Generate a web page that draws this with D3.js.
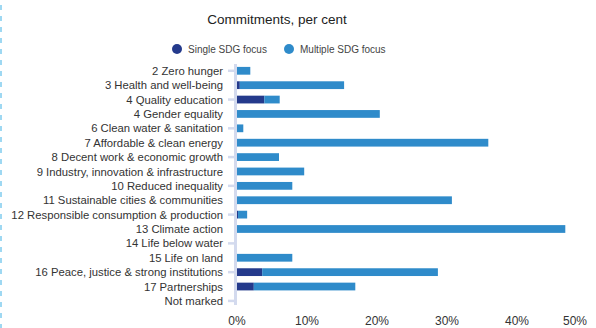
<!DOCTYPE html>
<html>
<head>
<meta charset="utf-8">
<script src="https://cdn.jsdelivr.net/npm/d3@7"></script>
<style>
  html, body { margin: 0; padding: 0; background: #ffffff; }
  svg { display: block; font-family: "Liberation Sans", Arial, sans-serif; }
</style>
</head>
<body>
<svg id="chart" width="596" height="328"></svg>
<script>
// SDG categories, top to bottom
const categories = [
  "2 Zero hunger",
  "3 Health and well-being",
  "4 Quality education",
  "4 Gender equality",
  "6 Clean water & sanitation",
  "7 Affordable & clean energy",
  "8 Decent work & economic growth",
  "9 Industry, innovation & infrastructure",
  "10 Reduced inequality",
  "11 Sustainable cities & communities",
  "12 Responsible consumption & production",
  "13 Climate action",
  "14 Life below water",
  "15 Life on land",
  "16 Peace, justice & strong institutions",
  "17 Partnerships",
  "Not marked"
];

// Share of commitments (per cent)
const singleFocus   = [0, 0.4, 3.9, 0, 0, 0, 0, 0, 0, 0, 0.15, 0, 0, 0, 3.6, 2.4, 0];
const multipleFocus = [1.9, 14.9, 2.2, 20.4, 0.9, 35.9, 6.0, 9.6, 7.9, 30.7, 1.3, 46.9, 0, 7.9, 25.1, 14.5, 0];

const xTicks = [0, 10, 20, 30, 40, 50];
const seriesNames = ["Single SDG focus", "Multiple SDG focus"];
const colors = ["#243a8c", "#2f8bca"];

const svg = d3.select("#chart");

// left dashed border
svg.append("line")
  .attr("x1", 1).attr("x2", 1).attr("y1", 5).attr("y2", 328)
  .attr("stroke", "#9ed8f2").attr("stroke-width", 2)
  .attr("stroke-dasharray", "5,6");

// title
svg.append("text")
  .attr("x", 277).attr("y", 24)
  .attr("text-anchor", "middle")
  .attr("font-size", 13.5)
  .attr("fill", "#222")
  .text("Commitments, per cent");

// legend
const legendX = [177, 289];
legendX.forEach((lx, i) => {
  svg.append("circle").attr("cx", lx).attr("cy", 49).attr("r", 5).attr("fill", colors[i]);
  svg.append("text").attr("x", lx + 11).attr("y", 52.5)
    .attr("font-size", 10).attr("fill", "#444").text(seriesNames[i]);
});

const x = d3.scaleLinear().domain([0, 50]).range([237, 587]);
const y = d3.scaleBand().domain(categories).range([63.6, 308.1])
  .paddingInner(0.46).paddingOuter(0.23);

const rows = categories.map((c, i) => ({
  cat: c, single: singleFocus[i], multiple: multipleFocus[i]
}));
const stacked = d3.stack().keys(["single", "multiple"])(rows);

// bars
svg.append("g").selectAll("g")
  .data(stacked)
  .join("g")
  .attr("fill", (d, i) => colors[i])
  .selectAll("rect")
  .data(d => d)
  .join("rect")
  .attr("x", d => x(d[0]))
  .attr("y", d => y(d.data.cat))
  .attr("width", d => Math.max(0, x(d[1]) - x(d[0])))
  .attr("height", y.bandwidth());

// category axis line
svg.append("line")
  .attr("x1", 235.5).attr("x2", 235.5).attr("y1", 64).attr("y2", 305)
  .attr("stroke", "#d3daee").attr("stroke-width", 3);

// ticks on alternate categories
svg.append("g").selectAll("line")
  .data(categories.filter((c, i) => i % 2 === 0))
  .join("line")
  .attr("x1", 228).attr("x2", 235)
  .attr("y1", d => y(d) + y.bandwidth() / 2)
  .attr("y2", d => y(d) + y.bandwidth() / 2)
  .attr("stroke", "#d3daee").attr("stroke-width", 2.5);

// category labels
svg.append("g").selectAll("text")
  .data(categories)
  .join("text")
  .attr("x", 223)
  .attr("y", d => y(d) + y.bandwidth() / 2)
  .attr("dy", "0.36em")
  .attr("text-anchor", "end")
  .attr("font-size", 11.3)
  .attr("fill", "#333")
  .text(d => d);

// value axis labels
svg.append("g").selectAll("text")
  .data(xTicks)
  .join("text")
  .attr("x", d => x(d))
  .attr("y", 325)
  .attr("text-anchor", (d, i) => i === xTicks.length - 1 ? "end" : "middle")
  .attr("font-size", 12)
  .attr("fill", "#333")
  .text(d => d + "%");
</script>
</body>
</html>
